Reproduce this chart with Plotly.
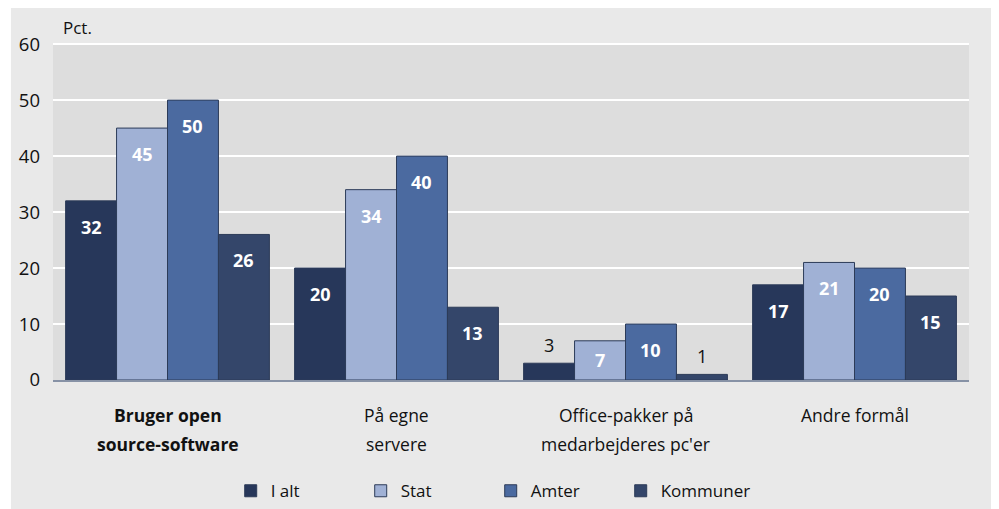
import plotly.graph_objects as go

categories = ["Bruger open<br>source-software", "På egne<br>servere", "Office-pakker på<br>medarbejderes pc'er", "Andre formål"]
series_names = ["I alt", "Stat", "Amter", "Kommuner"]
i_alt = [32, 20, 3, 17]
stat = [45, 34, 7, 21]
amter = [50, 40, 10, 20]
kommuner = [26, 13, 1, 15]
y_ticks = [0, 10, 20, 30, 40, 50, 60]

series_values = [i_alt, stat, amter, kommuner]
colors = ["#27375a", "#a0b1d5", "#4b6aa0", "#34466a"]
FONT = "Open Sans"
BARGAP = 0.11
bw = (1 - BARGAP) / 4

fig = go.Figure()
xs = list(range(len(categories)))
for name, vals, col in zip(series_names, series_values, colors):
    fig.add_trace(go.Bar(
        x=xs, y=vals, name=name,
        marker=dict(color=col, line=dict(color="#2c3b58", width=1)),
    ))

annotations = []
# value labels
for si, vals in enumerate(series_values):
    for ci, v in enumerate(vals):
        xpos = ci + (si - 1.5) * bw
        if v >= 10:
            annotations.append(dict(x=xpos, y=v, xref="x", yref="y", text=f"<b>{v}</b>",
                                    showarrow=False, yshift=-26,
                                    font=dict(family=FONT, size=18, color="white")))
        elif v >= 5:
            annotations.append(dict(x=xpos, y=v / 2, xref="x", yref="y", text=f"<b>{v}</b>",
                                    showarrow=False,
                                    font=dict(family=FONT, size=18, color="white")))
        else:
            annotations.append(dict(x=xpos, y=v, xref="x", yref="y", text=f"{v}",
                                    showarrow=False, yshift=18,
                                    font=dict(family=FONT, size=18, color="#111111")))
# category labels
for ci, cat in enumerate(categories):
    lines = cat.split("<br>")
    for li, line in enumerate(lines):
        txt = f"<b>{line}</b>" if ci == 0 else line
        annotations.append(dict(x=ci, y=0, xref="x", yref="paper", text=txt,
                                showarrow=False, yanchor="middle", yshift=-35 - 29 * li,
                                font=dict(family=FONT, size=17.5, color="#111111")))
annotations.append(dict(x=0.009, y=1, xref="paper", yref="paper", text="Pct.",
                        showarrow=False, xanchor="left", yanchor="middle", yshift=16,
                        font=dict(family=FONT, size=17, color="#111111")))

shapes = [
    dict(type="rect", xref="paper", yref="paper", x0=-0.07, x1=-0.0459, y0=-1, y1=2,
         fillcolor="white", line=dict(width=0), layer="below"),
]

fig.update_layout(
    width=991, height=501,
    margin=dict(l=45, r=30, t=35, b=129, autoexpand=False),
    paper_bgcolor="#e9e9e9", plot_bgcolor="#dddddd",
    barmode="group", bargap=BARGAP, bargroupgap=0,
    font=dict(family=FONT, size=17, color="#111111"),
    annotations=annotations, shapes=shapes,
    showlegend=True,
    legend=dict(orientation="h", x=0.194, xanchor="left", y=-0.33, yanchor="middle",
                entrywidth=85, font=dict(family=FONT, size=17, color="#111111"),
                bgcolor="rgba(0,0,0,0)", traceorder="normal"),
    xaxis=dict(range=[-0.5, 3.5], showticklabels=False, ticks="", showgrid=False,
               zeroline=False, showline=True, linecolor="#8792a6", linewidth=2),
    yaxis=dict(range=[0, 60.2], tickvals=y_ticks, showgrid=True, gridcolor="white",
               gridwidth=2, zeroline=False, showline=False, ticks="",
               tickfont=dict(family=FONT, size=18.5, color="#111111"), ticklabelstandoff=12),
)

fig.write_html("out.html")
